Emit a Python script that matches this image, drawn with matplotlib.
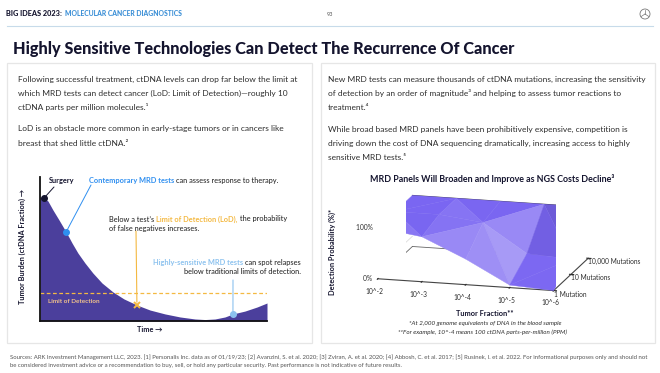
import matplotlib
matplotlib.use('Agg')
import matplotlib.pyplot as plt
import numpy as np
from matplotlib.transforms import Affine2D
from matplotlib.patches import Rectangle, Circle
from matplotlib.lines import Line2D
from matplotlib.colors import to_rgb
from matplotlib.tri import Triangulation

plt.rcParams['font.family'] = ['Lato', 'DejaVu Sans']

# ---- left chart: tumor burden over time (% of axis height)
time_pts = [0, 0.18, 0.35, 0.57, 0.84, 1.15, 1.41, 1.67, 1.98, 2.33, 2.73, 3.22, 3.70,
            4.27, 4.85, 5.51, 6.17, 6.83, 7.27, 7.71, 8.15, 8.50, 9.03, 9.56, 10.0]
burden = [86.1, 85.4, 83.3, 77.1, 70.1, 61.8, 54.2, 47.2, 40.3, 33.3, 26.4, 20.1, 15.3,
          11.1, 7.6, 4.9, 2.8, 1.4, 1.0, 1.4, 2.8, 4.9, 6.9, 9.7, 12.5]
lod_level = 19.4
surgery_i, contemp_i, lod_i, relapse_i = 1, 5, 13, 21

# ---- right chart: detection probability surface (%)
tumor_exp = [2, 3, 4, 5, 6]
tumor_labels = ['10^-2', '10^-3', '10^-4', '10^-5', '10^-6']
mutation_idx = [0, 1, 2]
mutation_labels = ['1 Mutation', '10 Mutations', '10,000 Mutations']
detect_1 = [100, 88, 50, 5, 0]
detect_10 = [100, 100, 90, 35, 30]
detect_10k = [100, 100, 100, 100, 100]
z_grid = [20, 40, 60, 80]
z_labels = {0: '0%', 100: '100%'}

NAVY = '#14142e'
TXT = '#2e2e2e'
BLUE = '#2f8ff0'
ORANGE = '#f4b942'
LIGHTBLUE = '#8cc2ef'
PURPLE = '#4b3f9c'
SURF = '#7a66f2'

fig = plt.figure(figsize=(6.6, 3.73), dpi=100)
fig.patch.set_facecolor('white')
# top-left pixel coordinates
PX = Affine2D().scale(0.01, -0.01).translate(0, 3.73) + fig.dpi_scale_trans
R = fig.canvas.get_renderer()


def fit(t, width):
    w = t.get_window_extent(R).width
    t.set_fontsize(t.get_fontsize() * width / w)
    return t.get_fontsize()


def adv(s, size, weight='normal', style='normal'):
    t = fig.text(0, 0, s + '|', fontsize=size, fontweight=weight, fontstyle=style)
    w1 = t.get_window_extent(R).width
    t.set_text('|')
    w2 = t.get_window_extent(R).width
    t.remove()
    return w1 - w2


def rich(x, y, segs, size, ha='left'):
    total = sum(adv(s, size, w) for s, c, w in segs)
    cur = x - total if ha == 'right' else x
    for s, c, w in segs:
        fig.text(cur, y, s, transform=PX, fontsize=size, color=c, fontweight=w,
                 va='center', ha='left')
        cur += adv(s, size, w)


# ---- header
t = fig.text(6, 14, 'BIG IDEAS 2023:', transform=PX, fontsize=4, fontweight='black',
             color=NAVY, va='center')
hs = fit(t, 55)
t = fig.text(65, 14, 'MOLECULAR CANCER DIAGNOSTICS', transform=PX, fontsize=hs,
             fontweight='black', color='#3b8fd6', va='center')
fit(t, 118)
fig.text(330, 14, '93', transform=PX, fontsize=4, color='#555555', va='center', ha='center')
fig.add_artist(Circle((645, 14), 5, transform=PX, fill=False, ec='#777777', lw=0.6))
for dx, dy in [(0, -4.5), (-3.8, 2.5), (3.8, 2.5)]:
    fig.add_artist(Line2D([645, 645 + dx], [14, 14 + dy], transform=PX, color='#777777', lw=0.5))
fig.add_artist(Line2D([7, 653], [26, 26], transform=PX, color='#c7dbea', lw=0.8))

# ---- title
t = fig.text(13, 49, 'Highly Sensitive Technologies Can Detect The Recurrence Of Cancer',
             transform=PX, fontsize=12, fontweight='black', color=NAVY, va='center')
fit(t, 502)

# ---- panels
for x0, w in [(7, 305), (321, 334)]:
    fig.add_artist(Rectangle((x0, 63), w, 280, transform=PX, fill=False, ec='#e6e6e6', lw=0.9))

# ---- body text
t = fig.text(18, 79, 'Following successful treatment, ctDNA levels can drop far below the limit at',
             transform=PX, fontsize=6, color=TXT, va='center')
bs = fit(t, 280)
left_lines = [(93, 'which MRD tests can detect cancer (LoD: Limit of Detection)\u2014roughly 10'),
              (107, 'ctDNA parts per million molecules.\u00b9'),
              (129, 'LoD is an obstacle more common in early-stage tumors or in cancers like'),
              (143, 'breast that shed little ctDNA.\u00b2')]
for y, s in left_lines:
    fig.text(18, y, s, transform=PX, fontsize=bs, color=TXT, va='center')
right_lines = [(79, 'New MRD tests can measure thousands of ctDNA mutations, increasing the sensitivity'),
               (93, 'of detection by an order of magnitude\u00b3 and helping to assess tumor reactions to'),
               (107, 'treatment.\u2074'),
               (129, 'While broad based MRD panels have been prohibitively expensive, competition is'),
               (143, 'driving down the cost of DNA sequencing dramatically, increasing access to highly'),
               (157, 'sensitive MRD tests.\u2075')]
for y, s in right_lines:
    fig.text(328, y, s, transform=PX, fontsize=bs, color=TXT, va='center')

# ---- left chart
ax = fig.add_axes([40 / 660, 1 - 321 / 373, 227 / 660, 144 / 373])
ax.fill_between(time_pts, burden, 0, color=PURPLE, lw=0)
ax.axhline(lod_level, color=ORANGE, lw=0.9, ls=(0, (3, 2)))
ax.set_xlim(0, 10)
ax.set_ylim(0, 100)
ax.set_xticks([])
ax.set_yticks([])
for s in ['top', 'right']:
    ax.spines[s].set_visible(False)
for s in ['left', 'bottom']:
    ax.spines[s].set_linewidth(1.3)
    ax.spines[s].set_color('#111111')
ax.patch.set_alpha(0)
ax.plot(time_pts[surgery_i], burden[surgery_i], 'o', color=NAVY, ms=4, clip_on=False, zorder=5)
ax.plot(time_pts[contemp_i], burden[contemp_i], 'o', color=BLUE, ms=4, zorder=5)
ax.plot(time_pts[lod_i], burden[lod_i], 'x', color=ORANGE, ms=4, mew=1.4, zorder=5)
ax.plot(time_pts[relapse_i], burden[relapse_i], 'o', color=LIGHTBLUE, ms=4, zorder=5)
ax.text(0.35, 13.5, 'Limit of Detection', color='#f1c28c', fontsize=4.6, fontweight='bold', va='center')

ann = dict(xycoords='data', textcoords=PX)
ax.annotate('', xy=(time_pts[surgery_i], burden[surgery_i]), xytext=(54, 187),
            arrowprops=dict(arrowstyle='-', color=NAVY, lw=0.7, shrinkA=0, shrinkB=2), **ann)
ax.annotate('', xy=(time_pts[contemp_i], burden[contemp_i]), xytext=(91, 185),
            arrowprops=dict(arrowstyle='-', color=BLUE, lw=0.7, shrinkA=0, shrinkB=2), **ann)
ax.annotate('', xy=(time_pts[lod_i], burden[lod_i]), xytext=(136, 231),
            arrowprops=dict(arrowstyle='-', color=ORANGE, lw=0.8, shrinkA=0, shrinkB=2), **ann)
ax.annotate('', xy=(time_pts[relapse_i], burden[relapse_i]), xytext=(233, 280),
            arrowprops=dict(arrowstyle='-', color=LIGHTBLUE, lw=0.8, shrinkA=0, shrinkB=2), **ann)

t = fig.text(89, 180, 'Contemporary MRD tests can assess response to therapy.', transform=PX,
             fontsize=5, fontweight='bold')
cs = fit(t, 191)
t.remove()
fig.text(62, 180, 'Surgery', transform=PX, fontsize=cs, fontweight='bold', color=NAVY,
         ha='center', va='center')
rich(89, 180, [('Contemporary MRD tests ', BLUE, 'bold'),
               ('can assess response to therapy.', TXT, 'medium')], cs)
rich(109, 219, [('Below a test\u2019s ', TXT, 'medium'),
                ('Limit of Detection (LoD),', ORANGE, 'bold'),
                (' the probability', TXT, 'medium')], cs)
rich(109, 228, [('of false negatives increases.', TXT, 'medium')], cs)
rich(301, 262, [('Highly-sensitive MRD tests ', LIGHTBLUE, 'bold'),
                ('can spot relapses', TXT, 'medium')], cs, ha='right')
rich(301, 271, [('below traditional limits of detection.', TXT, 'medium')], cs, ha='right')
fig.text(22, 246, 'Tumor Burden (ctDNA Fraction) \u2192', transform=PX, fontsize=cs,
         fontweight='bold', color=NAVY, rotation=90, ha='center', va='center')
fig.text(150, 329, 'Time \u2192', transform=PX, fontsize=cs, fontweight='bold', color=NAVY,
         ha='center', va='center')

# ---- right chart (3D surface), z plotted as a fraction
ax3 = fig.add_axes([326 / 660, 1 - 320 / 373, 310 / 660, 150 / 373], projection='3d')
X, Y = np.meshgrid(tumor_exp, mutation_idx)
Z = np.array([detect_1, detect_10, detect_10k], dtype=float) / 100
xs, ys, zs = X.ravel().astype(float), Y.ravel().astype(float), Z.ravel()
x0, x1 = tumor_exp[0], tumor_exp[-1]
y0, y1 = mutation_idx[0], mutation_idx[-1]
for z in z_grid:
    ax3.plot([x0, x0], [y0, y1], [z / 100] * 2, color='#dcdcdc', lw=0.6)
ax3.plot([x0, x0], [y0, y1], [0, 0], color='#666666', lw=0.6)
ax3.plot([x0, x1], [y1, y1], [0, 0], color='#666666', lw=0.6)

# gentle facet shading, light from the right and above
tri = Triangulation(xs, ys)
light = np.array([0.8, 0.0, 0.6])
base = np.array(to_rgb(SURF))
face_cols = []
for a, b, c in tri.triangles:
    p = np.array([[xs[i], ys[i], zs[i]] for i in (a, b, c)])
    n = np.cross(p[1] - p[0], p[2] - p[0])
    n = n / np.linalg.norm(n)
    if n[2] < 0:
        n = -n
    d = n @ light - 0.6
    col = base + (1 - base) * min(1.2 * d, 0.35) if d > 0 else base * (1 + max(d, -0.2))
    face_cols.append(np.clip(col, 0, 1))
surf = ax3.plot_trisurf(tri, zs, color=SURF, shade=False, linewidth=0.3)
surf.set_facecolor(face_cols)
surf.set_edgecolor(face_cols)
ax3.plot([x0, x1], [y1, y1], [1, 1], color='#3a3a3a', lw=0.7)

for z, s in z_labels.items():
    ax3.text(x0, y0, z / 100, s + '   ', ha='right', va='center', fontsize=4.8, color=TXT)
ax3.set_xlim(x0, x1)
ax3.set_ylim(y0, y1)
ax3.set_zlim(0, 1)
ax3.set_xticks(tumor_exp)
ax3.set_xticklabels(tumor_labels)
ax3.set_yticks(mutation_idx)
ax3.set_yticklabels(mutation_labels, ha='left')
ax3.set_zticks([])
ax3.tick_params(labelsize=4.8, colors=TXT, pad=-2)
ax3.tick_params(axis='y', pad=-8)
ax3.grid(False)
ax3.set_facecolor('none')
for a in (ax3.xaxis, ax3.yaxis, ax3.zaxis):
    a.set_pane_color((1, 1, 1, 0))
    a.pane.set_edgecolor((1, 1, 1, 0))
    a.label.set_visible(False)
ax3.xaxis.line.set_color('#444444')
ax3.yaxis.line.set_color('#444444')
ax3.zaxis.line.set_color((1, 1, 1, 0))
ax3.set_proj_type('ortho')
ax3.view_init(elev=14.5, azim=-75)
ax3.set_box_aspect((3, 2.2, 0.87), zoom=1.5)

t = fig.text(492, 179, 'MRD Panels Will Broaden and Improve as NGS Costs Decline\u00b3', transform=PX,
             fontsize=6, fontweight='bold', color=NAVY, ha='center', va='center')
fit(t, 246)
fig.text(332, 252, 'Detection Probability (%)*', transform=PX, fontsize=cs, fontweight='bold',
         color=NAVY, rotation=90, ha='center', va='center')
fig.text(485, 313, 'Tumor Fraction**', transform=PX, fontsize=cs, fontweight='bold', color=NAVY,
         ha='center', va='center')
fig.text(485, 323, '*At 2,000 genome equivalents of DNA in the blood sample', transform=PX,
         fontsize=cs * 0.85, fontstyle='italic', color=TXT, ha='center', va='center')
fig.text(483, 332, '**For example, 10^-4 means 100 ctDNA parts-per-million (PPM)', transform=PX,
         fontsize=cs * 0.85, fontstyle='italic', color=TXT, ha='center', va='center')

# ---- footer
t = fig.text(10, 357, 'Sources: ARK Investment Management LLC, 2023. [1] Personalis Inc. data as of 01/19/23; '
             '[2] Avanzini, S. et al. 2020; [3] Zviran, A. et al. 2020; [4] Abbosh, C. et al. 2017; '
             '[5] Rusinek, I. et al. 2022. For informational purposes only and should not',
             transform=PX, fontsize=4, color='#555555', va='center')
fs = fit(t, 638)
fig.text(10, 365, 'be considered investment advice or a recommendation to buy, sell, or hold any particular '
         'security. Past performance is not indicative of future results.', transform=PX,
         fontsize=fs, color='#555555', va='center')

fig.savefig('out.png', dpi=100, facecolor='white')
